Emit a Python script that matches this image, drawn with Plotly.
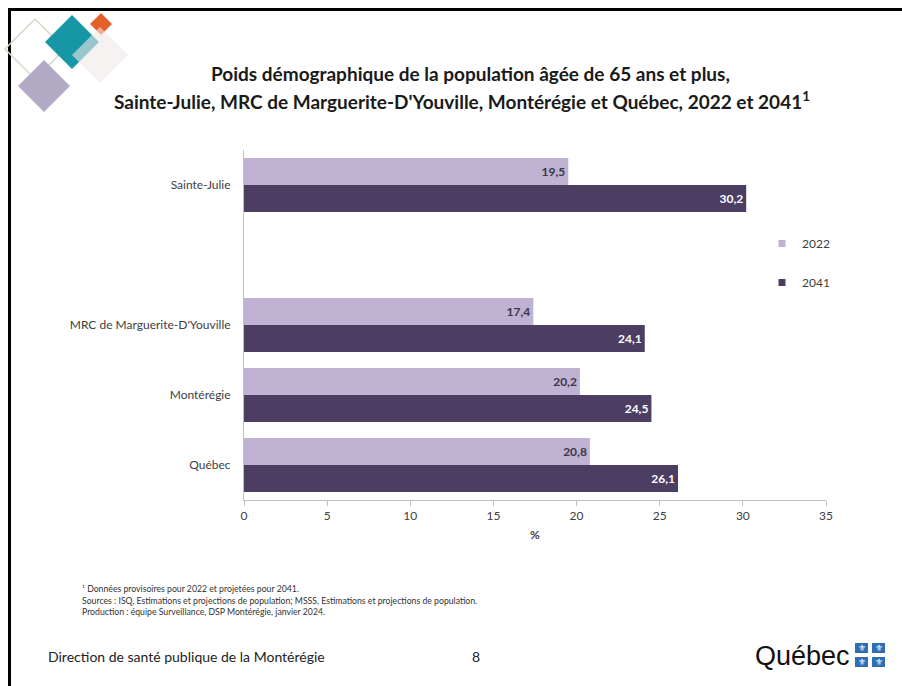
import plotly.graph_objects as go

W, H = 902, 686

categories = ["Sainte-Julie", "MRC de Marguerite-D'Youville", "Montérégie", "Québec"]
axis_order = categories[:1] + [" "] + categories[1:]
years = ["2022", "2041"]
values_2022 = [19.5, 17.4, 20.2, 20.8]
values_2041 = [30.2, 24.1, 24.5, 26.1]
x_ticks = [0, 5, 10, 15, 20, 25, 30, 35]

colors = {"2022": "#c0b2d2", "2041": "#4c3d63"}
text_colors = {"2022": "#3d3548", "2041": "#ffffff"}
FONT = "Lato"


def px(x):
    return x / W


def py(y):
    return 1 - y / H


def fmt(v):
    return f"{v:.1f}".replace(".", ",")


fig = go.Figure()
for yr, vals in zip(years, [values_2022, values_2041]):
    fig.add_trace(go.Bar(
        y=categories, x=vals, orientation="h", name=yr,
        marker=dict(color=colors[yr], line=dict(width=0)),
        text=[fmt(v) for v in vals], textposition="inside",
        insidetextanchor="end",
        textfont=dict(family=FONT, size=12, color=text_colors[yr], weight="bold"),
        showlegend=False, hoverinfo="skip",
    ))
    fig.add_trace(go.Scatter(
        x=[None], y=[None], mode="markers", name=yr, legendgroup=yr,
        marker=dict(symbol="square", size=7, color=colors[yr]),
    ))

fig.update_layout(
    width=W, height=H,
    margin=dict(l=0, r=0, t=0, b=0),
    paper_bgcolor="white", plot_bgcolor="white",
    font=dict(family=FONT, size=12, color="#404040"),
    barmode="group", bargap=0.23, bargroupgap=0,
    legend=dict(x=px(762), y=py(229), xanchor="left", yanchor="top",
                font=dict(size=12, color="#404040"),
                traceorder="grouped", tracegroupgap=20,
                itemwidth=30, bgcolor="rgba(0,0,0,0)"),
    xaxis=dict(domain=[px(244), px(826)], range=[0, 35], tickvals=x_ticks,
               ticktext=[str(t) for t in x_ticks],
               showgrid=False, zeroline=False,
               showline=True, linecolor="#bfbfbf", linewidth=1,
               ticks="outside", ticklen=5, tickcolor="#bfbfbf",
               tickfont=dict(size=12, color="#404040"),
               title=dict(text="<b>%</b>", font=dict(size=12, color="#404040"), standoff=8),
               automargin=False, fixedrange=True),
    yaxis=dict(domain=[py(500), py(150)], type="category",
               categoryorder="array", categoryarray=axis_order,
               tickvals=categories, ticktext=categories,
               autorange="reversed",
               showgrid=False, zeroline=False,
               showline=True, linecolor="#bfbfbf", linewidth=1,
               ticks="", ticklabelstandoff=10,
               tickfont=dict(size=12, color="#404040"),
               automargin=False, fixedrange=True),
)

shapes = []
# page border (top and left)
shapes.append(dict(type="line", xref="paper", yref="paper",
                   x0=px(8), x1=px(902), y0=py(9.5), y1=py(9.5),
                   line=dict(color="black", width=3)))
shapes.append(dict(type="line", xref="paper", yref="paper",
                   x0=px(9.5), x1=px(9.5), y0=py(8), y1=py(686),
                   line=dict(color="black", width=3)))


def diamond(cx, cy, r):
    pts = [(cx, cy - r), (cx + r, cy), (cx, cy + r), (cx - r, cy)]
    return "M " + " L ".join(f"{px(a):.5f},{py(b):.5f}" for a, b in pts) + " Z"


# decorative logo
shapes.append(dict(type="path", xref="paper", yref="paper", path=diamond(35, 49, 30),
                   line=dict(color="#d3dbc9", width=1.5), fillcolor="rgba(0,0,0,0)"))
shapes.append(dict(type="path", xref="paper", yref="paper", path=diamond(44, 86, 26),
                   line=dict(width=0), fillcolor="#b2a9c5"))
shapes.append(dict(type="path", xref="paper", yref="paper", path=diamond(72, 42, 27),
                   line=dict(width=0), fillcolor="#1797a6"))
shapes.append(dict(type="path", xref="paper", yref="paper", path=diamond(101, 24, 11),
                   line=dict(width=0), fillcolor="#e4602a"))
shapes.append(dict(type="path", xref="paper", yref="paper", path=diamond(100, 55, 28),
                   line=dict(width=0), fillcolor="rgba(238,234,231,0.6)"))

# Québec logo flags
for (x0, y0) in [(855, 643), (872, 643), (855, 657), (872, 657)]:
    shapes.append(dict(type="rect", xref="paper", yref="paper",
                       x0=px(x0), x1=px(x0 + 13), y0=py(y0 + 10), y1=py(y0),
                       line=dict(width=0), fillcolor="#2f6db5"))

annotations = [
    dict(text="<b>Poids démographique de la population âgée de 65 ans et plus,</b>",
         x=px(470), y=py(73), xref="paper", yref="paper", showarrow=False,
         font=dict(size=19, color="#1a1a1a"), xanchor="center", yanchor="middle"),
    dict(text="<b>Sainte-Julie, MRC de Marguerite-D'Youville, Montérégie et Québec, 2022 et 2041<sup>1</sup></b>",
         x=px(462), y=py(100), xref="paper", yref="paper", showarrow=False,
         font=dict(size=19, color="#1a1a1a"), xanchor="center", yanchor="middle"),
    dict(text="¹ Données provisoires pour 2022 et projetées pour 2041.",
         x=px(80), y=py(588), xref="paper", yref="paper", showarrow=False,
         font=dict(size=8.7, color="#333333"), xanchor="left", yanchor="middle"),
    dict(text="Sources : ISQ, Estimations et projections de population; MSSS, Estimations et projections de population.",
         x=px(80), y=py(600), xref="paper", yref="paper", showarrow=False,
         font=dict(size=8.7, color="#333333"), xanchor="left", yanchor="middle"),
    dict(text="Production : équipe Surveillance, DSP Montérégie, janvier 2024.",
         x=px(80), y=py(611), xref="paper", yref="paper", showarrow=False,
         font=dict(size=8.7, color="#333333"), xanchor="left", yanchor="middle"),
    dict(text="Direction de santé publique de la Montérégie",
         x=px(46), y=py(656), xref="paper", yref="paper", showarrow=False,
         font=dict(size=14, color="#222222"), xanchor="left", yanchor="middle"),
    dict(text="8", x=px(476), y=py(656), xref="paper", yref="paper", showarrow=False,
         font=dict(size=14, color="#222222"), xanchor="center", yanchor="middle"),
    dict(text="Québec", x=px(753), y=py(656), xref="paper", yref="paper", showarrow=False,
         font=dict(family="Liberation Sans", size=27, color="#111111"),
         xanchor="left", yanchor="middle"),
]
for (x0, y0) in [(855, 643), (872, 643), (855, 657), (872, 657)]:
    annotations.append(dict(text="⚜", x=px(x0 + 6.5), y=py(y0 + 5), xref="paper", yref="paper",
                            showarrow=False, font=dict(family="DejaVu Sans", size=9, color="white"),
                            xanchor="center", yanchor="middle"))

fig.update_layout(shapes=shapes, annotations=annotations)
fig.write_html("out.html", config={"displayModeBar": False},
               post_script="document.body.style.margin='0px';")
